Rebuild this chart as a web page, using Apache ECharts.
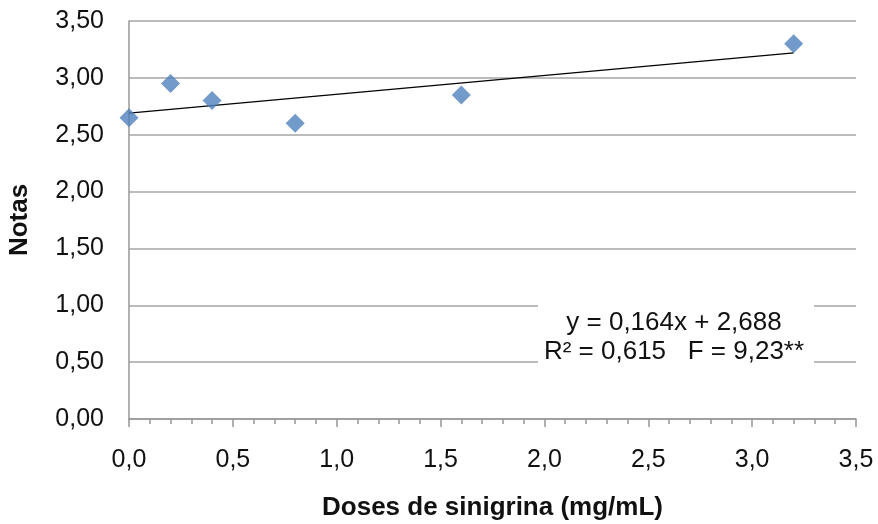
<!DOCTYPE html>
<html>
<head>
<meta charset="utf-8">
<script src="https://cdn.jsdelivr.net/npm/echarts@6/dist/echarts.min.js"></script>
<style>
  html, body { margin: 0; padding: 0; background: #fff; }
  #chart { width: 878px; height: 524px; }
</style>
</head>
<body>
<div id="chart"></div>
<script>
// doses (mg/mL) e notas
const doses = [0, 0.2, 0.4, 0.8, 1.6, 3.2];
const notas = [2.65, 2.95, 2.80, 2.60, 2.85, 3.30];
// linha de tendência (extremos)
const trendX = [0, 3.2];
const trendY = [2.69, 3.22];
const eqLines = ["y = 0,164x + 2,688", "R² = 0,615   F = 9,23**"];

const font = "'Liberation Sans', Arial, sans-serif";
const comma = (v, d) => v.toFixed(d).replace(".", ",");

const chart = echarts.init(document.getElementById("chart"));
chart.setOption({
  animation: false,
  grid: { left: 129, right: 22, top: 21, bottom: 105, outerBoundsMode: "none", containLabel: false },
  xAxis: {
    type: "value",
    min: 0, max: 3.5, interval: 0.5,
    name: "Doses de sinigrina (mg/mL)",
    nameLocation: "middle",
    nameGap: 76,
    nameTextStyle: { fontFamily: font, fontSize: 26, fontWeight: "bold", color: "#111" },
    axisLine: { lineStyle: { color: "#979797", width: 1.5 } },
    axisTick: { show: true, length: 8, lineStyle: { color: "#979797", width: 1.5 } },
    minorTick: { show: true, splitNumber: 5, length: 5, lineStyle: { color: "#979797", width: 1.5 } },
    axisLabel: { fontFamily: font, fontSize: 25, color: "#111", margin: 29,
      formatter: v => comma(v, 1) },
    splitLine: { show: false }
  },
  yAxis: {
    type: "value",
    min: 0, max: 3.5, interval: 0.5,
    name: "Notas",
    nameLocation: "middle",
    nameGap: 96,
    nameTextStyle: { fontFamily: font, fontSize: 26, fontWeight: "bold", color: "#111" },
    axisLine: { show: true, lineStyle: { color: "#979797", width: 1.5 } },
    axisTick: { show: false },
    axisLabel: { fontFamily: font, fontSize: 25, color: "#111", margin: 25,
      formatter: v => comma(v, 2) },
    splitLine: { show: true, lineStyle: { color: "#a6a6a6", width: 1.5 } }
  },
  graphic: [
    { type: "rect", z: 50, shape: { x: 538, y: 295, width: 276, height: 76 },
      style: { fill: "#fff" } },
    { type: "text", z: 51, x: 674, y: 323,
      style: { text: eqLines[0], font: "26px " + font, fill: "#111", align: "center", verticalAlign: "middle" } },
    { type: "text", z: 51, x: 674, y: 352,
      style: { text: eqLines[1], font: "26px " + font, fill: "#111", align: "center", verticalAlign: "middle" } }
  ],
  series: [
    {
      type: "line",
      data: trendX.map((x, i) => [x, trendY[i]]),
      showSymbol: false,
      lineStyle: { color: "#000", width: 1.3 },
      z: 2
    },
    {
      type: "scatter",
      data: doses.map((x, i) => [x, notas[i]]),
      symbol: "diamond",
      symbolSize: [19, 19],
      itemStyle: { color: "#4f81bd" },
      z: 3
    }
  ]
});
</script>
</body>
</html>
